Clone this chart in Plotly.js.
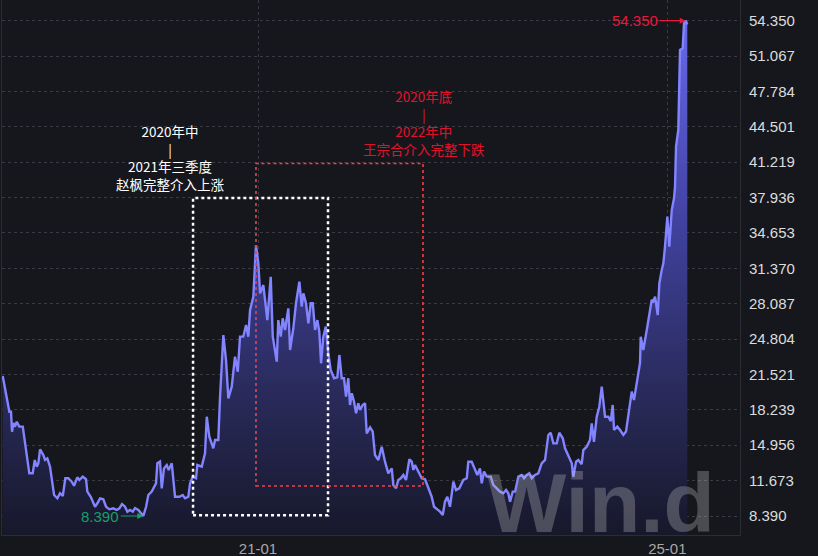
<!DOCTYPE html>
<html>
<head>
<meta charset="utf-8">
<script src="https://cdn.plot.ly/plotly-3.0.1.min.js"></script>
<style>
html,body{margin:0;padding:0;background:#16171c;}
#chart{width:818px;height:556px;}
</style>
</head>
<body>
<div id="chart"></div>
<script>
// Time (decimal years) and NAV values
const tYear = [
2018.505,2018.544,2018.570,2018.586,2018.596,2018.609,2018.625,2018.642,2018.667,2018.701,
2018.723,2018.765,2018.798,2018.818,2018.837,2018.853,2018.870,2018.902,2018.919,2018.941,
2018.967,2019.007,2019.039,2019.065,2019.092,2019.117,2019.146,2019.179,2019.202,2019.234,
2019.254,2019.287,2019.319,2019.332,2019.365,2019.407,2019.430,2019.456,2019.488,2019.515,
2019.547,2019.586,2019.619,2019.645,2019.671,2019.700,2019.723,2019.749,2019.776,2019.798,
2019.830,2019.864,2019.879,2019.906,2019.928,2019.961,2020.003,2020.016,2020.042,2020.059,
2020.081,2020.108,2020.127,2020.157,2020.189,2020.231,2020.264,2020.287,2020.319,2020.336,
2020.362,2020.394,2020.407,2020.450,2020.482,2020.499,2020.524,2020.563,2020.580,2020.612,
2020.629,2020.661,2020.687,2020.710,2020.743,2020.775,2020.802,2020.824,2020.856,2020.883,
2020.905,2020.922,2020.954,2020.980,2021.003,2021.020,2021.052,2021.091,2021.124,2021.144,
2021.183,2021.198,2021.222,2021.241,2021.264,2021.296,2021.313,2021.345,2021.371,2021.404,
2021.427,2021.443,2021.469,2021.492,2021.515,2021.535,2021.557,2021.580,2021.599,2021.616,
2021.638,2021.662,2021.687,2021.710,2021.743,2021.775,2021.795,2021.818,2021.840,2021.860,
2021.882,2021.899,2021.916,2021.938,2021.958,2021.980,2021.997,2022.023,2022.046,2022.062,
2022.095,2022.121,2022.143,2022.176,2022.209,2022.241,2022.273,2022.307,2022.322,2022.349,
2022.371,2022.395,2022.420,2022.446,2022.479,2022.502,2022.518,2022.534,2022.567,2022.600,
2022.632,2022.664,2022.697,2022.720,2022.752,2022.779,2022.805,2022.827,2022.850,2022.876,
2022.909,2022.935,2022.967,2023.006,2023.040,2023.055,2023.088,2023.121,2023.143,2023.169,
2023.186,2023.209,2023.235,2023.274,2023.299,2023.333,2023.365,2023.397,2023.424,2023.446,
2023.463,2023.489,2023.512,2023.544,2023.577,2023.599,2023.626,2023.651,2023.675,2023.707,
2023.739,2023.772,2023.805,2023.837,2023.860,2023.886,2023.919,2023.944,2023.978,2024.000,
2024.032,2024.066,2024.081,2024.108,2024.130,2024.163,2024.179,2024.212,2024.244,2024.261,
2024.283,2024.310,2024.335,2024.359,2024.391,2024.423,2024.447,2024.466,2024.479,2024.511,
2024.538,2024.570,2024.596,2024.628,2024.652,2024.674,2024.701,2024.733,2024.740,2024.765,
2024.799,2024.824,2024.847,2024.863,2024.880,2024.906,2024.922,2024.945,2024.961,2024.977,
2025.000,2025.019,2025.043,2025.065,2025.075,2025.085,2025.107,2025.124,2025.150,2025.163,
2025.180,2025.195
];
const nav = [
21.38,19.46,18.07,18.07,16.21,17.02,16.68,17.14,16.68,16.68,
15.28,12.35,12.35,13.59,12.97,13.28,14.58,14.05,13.59,13.74,
12.97,10.34,10.03,10.50,10.25,11.89,11.89,11.57,11.20,11.98,
11.73,12.04,11.80,10.65,10.18,9.25,9.57,10.03,9.94,9.25,
9.01,9.10,8.95,9.10,9.50,9.25,8.79,8.95,8.79,9.13,
8.95,8.55,8.39,9.25,10.34,10.65,11.42,13.28,13.43,10.96,
12.81,13.12,12.66,13.28,10.18,10.18,10.34,10.03,10.18,11.42,
12.04,11.89,13.12,12.97,14.21,17.60,15.75,14.67,15.44,15.44,
19.46,25.18,22.87,19.31,20.39,23.17,21.78,25.03,25.03,26.11,
25.03,27.51,28.74,33.53,31.83,29.05,29.82,26.57,30.59,25.03,
22.71,26.57,25.03,26.73,25.65,27.66,23.79,25.81,28.13,30.13,
27.81,29.05,28.13,26.27,28.13,28.13,25.65,26.57,25.49,22.56,
25.03,25.96,23.48,21.94,21.17,21.26,23.33,21.17,21.17,19.46,
21.17,18.69,19.78,19.01,17.93,18.85,18.23,18.69,18.85,16.06,
16.62,16.21,14.05,13.59,14.82,13.43,12.35,12.81,11.27,10.96,
11.73,11.89,12.20,11.73,13.65,13.43,12.66,13.12,12.51,11.89,
11.80,10.96,10.18,9.25,9.01,8.79,8.48,9.72,10.18,9.25,
11.57,10.80,10.96,11.73,11.89,13.43,13.43,12.66,12.20,12.81,
11.42,12.51,12.04,12.04,11.27,10.96,10.65,10.50,10.80,10.50,
9.72,10.65,10.65,12.04,12.20,11.89,12.20,12.35,11.89,12.20,
12.35,13.28,13.59,15.91,16.12,15.13,15.13,16.12,15.60,14.67,
14.05,13.28,12.04,13.43,13.59,13.20,14.51,14.82,15.44,16.99,
15.28,17.60,18.53,20.39,17.60,17.60,17.20,18.69,16.37,16.68,
16.37,15.91,16.22,18.53,19.93,19.15,20.70,22.60,25.03,23.79,
25.65,27.35,28.43,28.30,28.74,27.04,29.98,31.22,31.83,33.38,
36.17,33.38,36.78,37.87,38.95,42.66,44.21,51.63,51.79,54.12,
54.35,54.00
];
const yTickVals = [8.390,11.673,14.956,18.239,21.521,24.804,28.087,31.370,34.653,37.936,41.219,44.501,47.784,51.067,54.350];
const yTickText = ['8.390','11.673','14.956','18.239','21.521','24.804','28.087','31.370','34.653','37.936','41.219','44.501','47.784','51.067','54.350'];
const xTickVals = [2021, 2025];
const xTickText = ['21-01', '25-01'];
const noteUp = ['2020年中', '|', '2021年三季度', '赵枫完整介入上涨'];
const noteDown = ['2020年底', '|', '2022年中', '王宗合介入完整下跌'];

let iMax = 0, iMin = 0;
nav.forEach((v, i) => { if (v > nav[iMax]) iMax = i; if (v < nav[iMin]) iMin = i; });

const trace = {
  x: tYear, y: nav, type: 'scatter', mode: 'lines',
  line: {color: '#8384ff', width: 2.4},
  fill: 'tozeroy',
  fillgradient: {
    type: 'vertical', start: 6.6, stop: 54.35,
    colorscale: [[0, '#17182a'], [0.3, '#2b2c5f'], [0.6, '#40419d'], [1, '#6768ea']]
  },
  hoverinfo: 'skip'
};

const font = '"Liberation Sans", Arial, sans-serif';
const cjk = '"Noto Sans CJK SC", sans-serif';
const annotations = [
  {x: 2020.140, y: 41.655, xref: 'x', yref: 'y', text: noteUp.join('<br>'), showarrow: false,
   align: 'center', font: {family: cjk, size: 13.5, color: '#ffffff'}},
  {x: 2022.622, y: 44.95, xref: 'x', yref: 'y', text: noteDown.join('<br>'), showarrow: false,
   align: 'center', font: {family: cjk, size: 13.5, color: '#e0122c'}},
  {x: tYear[iMax], y: nav[iMax], xref: 'x', yref: 'y', text: nav[iMax].toFixed(3),
   showarrow: true, ax: -51, ay: 0, arrowhead: 2, arrowsize: 1, arrowwidth: 1.2, arrowcolor: '#e8173c',
   font: {family: font, size: 15, color: '#e8173c'}, standoff: 0},
  {x: tYear[iMin], y: nav[iMin], xref: 'x', yref: 'y', text: nav[iMin].toFixed(3),
   showarrow: true, ax: -43, ay: 0, arrowhead: 2, arrowsize: 1, arrowwidth: 1.2, arrowcolor: '#17a067',
   font: {family: font, size: 15, color: '#17a067'}, standoff: 0},
  {x: 0.8117, y: 0.0598, xref: 'paper', yref: 'paper', xanchor: 'center', yanchor: 'middle', text: '<b>Win.d</b>',
   showarrow: false, font: {family: font, size: 84, color: 'rgba(200,200,200,0.30)'}}
];

const shapes = [
  {type: 'rect', xref: 'x', yref: 'y', x0: 2020.365, x1: 2021.684, y0: 8.45, y1: 37.90,
   line: {color: '#ffffff', width: 2.5, dash: 'dot'}, fillcolor: 'rgba(0,0,0,0)'},
  {type: 'rect', xref: 'x', yref: 'y', x0: 2020.980, x1: 2022.612, y0: 11.17, y1: 41.10,
   line: {color: '#f0404a', width: 1.6, dash: 'dot'}, fillcolor: 'rgba(0,0,0,0)'}
];

const layout = {
  width: 818, height: 556,
  margin: {l: 2, r: 78, t: 0, b: 21, pad: 0},
  paper_bgcolor: '#16171c', plot_bgcolor: '#16171c',
  showlegend: false,
  xaxis: {
    range: [2018.498, 2025.710], tickvals: xTickVals, ticktext: xTickText,
    showgrid: true, gridcolor: '#3a3b42', griddash: 'dot', gridwidth: 1,
    zeroline: false, showline: true, linecolor: '#2c2d33', linewidth: 1, mirror: false,
    ticks: '', tickfont: {family: font, size: 15, color: '#a8a8a8'}
  },
  yaxis: {
    side: 'right', range: [6.627, 56.27], tickvals: yTickVals, ticktext: yTickText,
    showgrid: true, gridcolor: '#3a3b42', griddash: 'dot', gridwidth: 1,
    zeroline: false, showline: true, linecolor: '#2c2d33', linewidth: 1, mirror: true,
    ticks: '', ticklabelstandoff: 5, tickfont: {family: font, size: 15, color: '#dcdcdc'}
  },
  annotations: annotations,
  shapes: shapes
};

Plotly.newPlot('chart', [trace], layout, {displayModeBar: false, staticPlot: true});
</script>
</body>
</html>
